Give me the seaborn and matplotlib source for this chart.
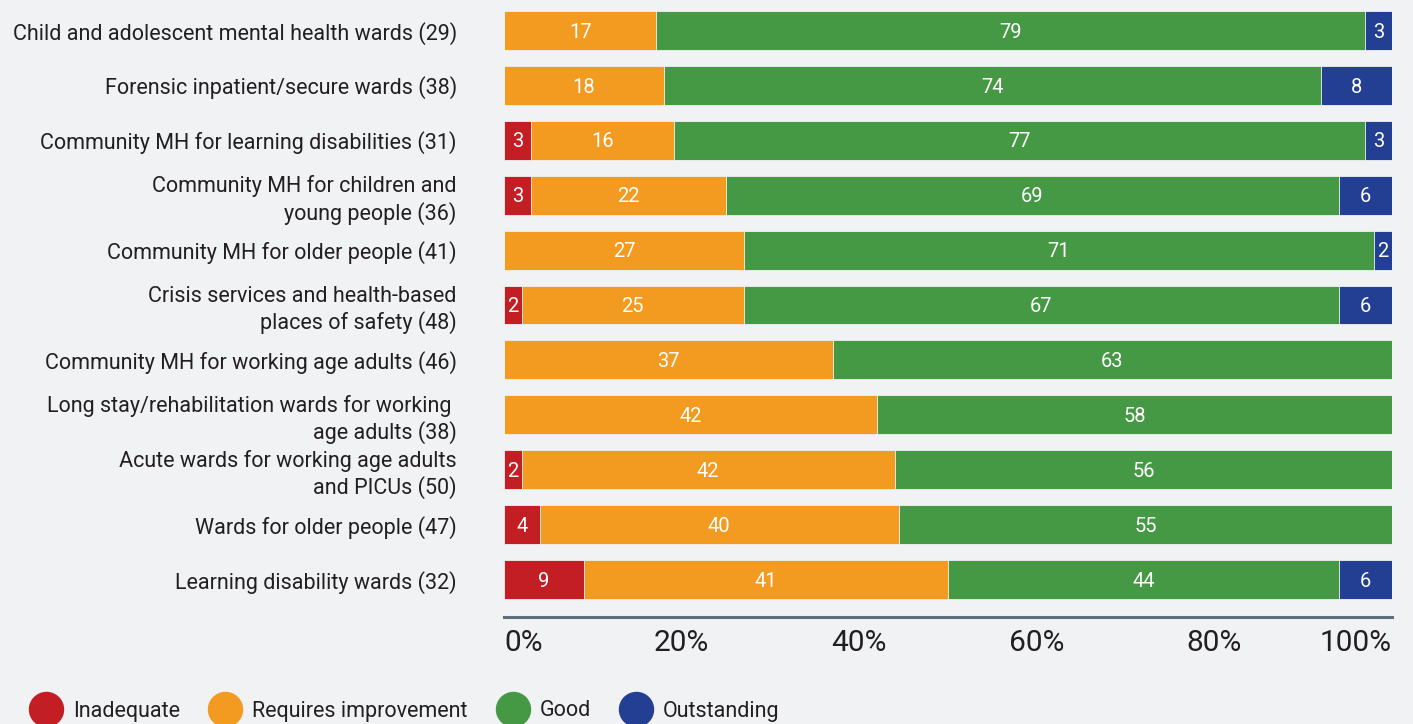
import matplotlib
matplotlib.use("Agg")
import matplotlib.pyplot as plt
from matplotlib.lines import Line2D
import seaborn as sns
import numpy as np
import pandas as pd

categories = [
    "Child and adolescent mental health wards (29)",
    "Forensic inpatient/secure wards (38)",
    "Community MH for learning disabilities (31)",
    "Community MH for children and\nyoung people (36)",
    "Community MH for older people (41)",
    "Crisis services and health-based\nplaces of safety (48)",
    "Community MH for working age adults (46)",
    "Long stay/rehabilitation wards for working \nage adults (38)",
    "Acute wards for working age adults\nand PICUs (50)",
    "Wards for older people (47)",
    "Learning disability wards (32)",
]
inadequate  = [0, 0, 3, 3, 0, 2, 0, 0, 2, 4, 9]
requires    = [17, 18, 16, 22, 27, 25, 37, 42, 42, 40, 41]
good        = [79, 74, 77, 69, 71, 67, 63, 58, 56, 55, 44]
outstanding = [3, 8, 3, 6, 2, 6, 0, 0, 0, 0, 6]
series_names = ["Inadequate", "Requires improvement", "Good", "Outstanding"]
colors = ["#C21E23", "#F39A21", "#459945", "#223F94"]
tick_labels = ["0%", "20%", "40%", "60%", "80%", "100%"]

BG = "#F1F2F4"
TXT = "#231F20"

sns.set_theme(style="white")
plt.rcParams["font.family"] = ["Roboto", "DejaVu Sans"]

vals = np.array([inadequate, requires, good, outstanding], dtype=float)
totals = vals.sum(axis=0)
shares = vals / totals * 100.0
cum = np.cumsum(shares, axis=0)

fig = plt.figure(figsize=(14.13, 7.24), dpi=100, facecolor=BG)
ax = fig.add_axes([504/1413, 1-607/724, 888/1413, 604/724])
ax.set_facecolor(BG)

# overlay cumulative bars, longest first
for i in range(3, -1, -1):
    df = pd.DataFrame({"cat": categories, "val": cum[i]})
    sns.barplot(data=df, y="cat", x="val", orient="h", color=colors[i],
                saturation=1, width=0.71, ax=ax, edgecolor=BG, linewidth=0.6)

for i in range(4):
    for j in range(len(categories)):
        v = vals[i, j]
        if v <= 0:
            continue
        xc = cum[i, j] - shares[i, j] / 2
        ax.text(xc, j + 0.03, f"{int(v)}", ha="center", va="center",
                color="white", fontsize=14.5)

for s in ["top", "right", "left"]:
    ax.spines[s].set_visible(False)
ax.spines["bottom"].set_position(("outward", 7))
ax.spines["bottom"].set_color("#5E6E7E")
ax.spines["bottom"].set_linewidth(2.2)

ax.set_xlim(0, 100)
ax.set_ylim(len(categories) - 0.5, -0.5)
ax.set_xticks([0, 20, 40, 60, 80, 100])
ax.set_xticklabels(tick_labels)
ax.set_xlabel("")
ax.set_ylabel("")
ax.tick_params(axis="x", length=0, pad=9, labelsize=21.5, labelcolor=TXT)
ax.tick_params(axis="y", length=0, pad=34, labelsize=15.5, labelcolor=TXT)
xl = ax.get_xticklabels()
xl[0].set_horizontalalignment("left")
xl[-1].set_horizontalalignment("right")
for lab in ax.get_yticklabels():
    lab.set_linespacing(1.25)

handles = [Line2D([0], [0], marker="o", linestyle="", markersize=24.5,
                  markerfacecolor=c, markeredgecolor=c) for c in colors]
fig.legend(handles, series_names, loc="center left", ncol=4,
           bbox_to_anchor=(30/1413, 1-711/724), frameon=False,
           fontsize=15.5, handlelength=1.5, handletextpad=0.5,
           columnspacing=1.35, borderpad=0, borderaxespad=0,
           labelcolor=TXT)

fig.savefig("out.png", dpi=100, facecolor=BG)
